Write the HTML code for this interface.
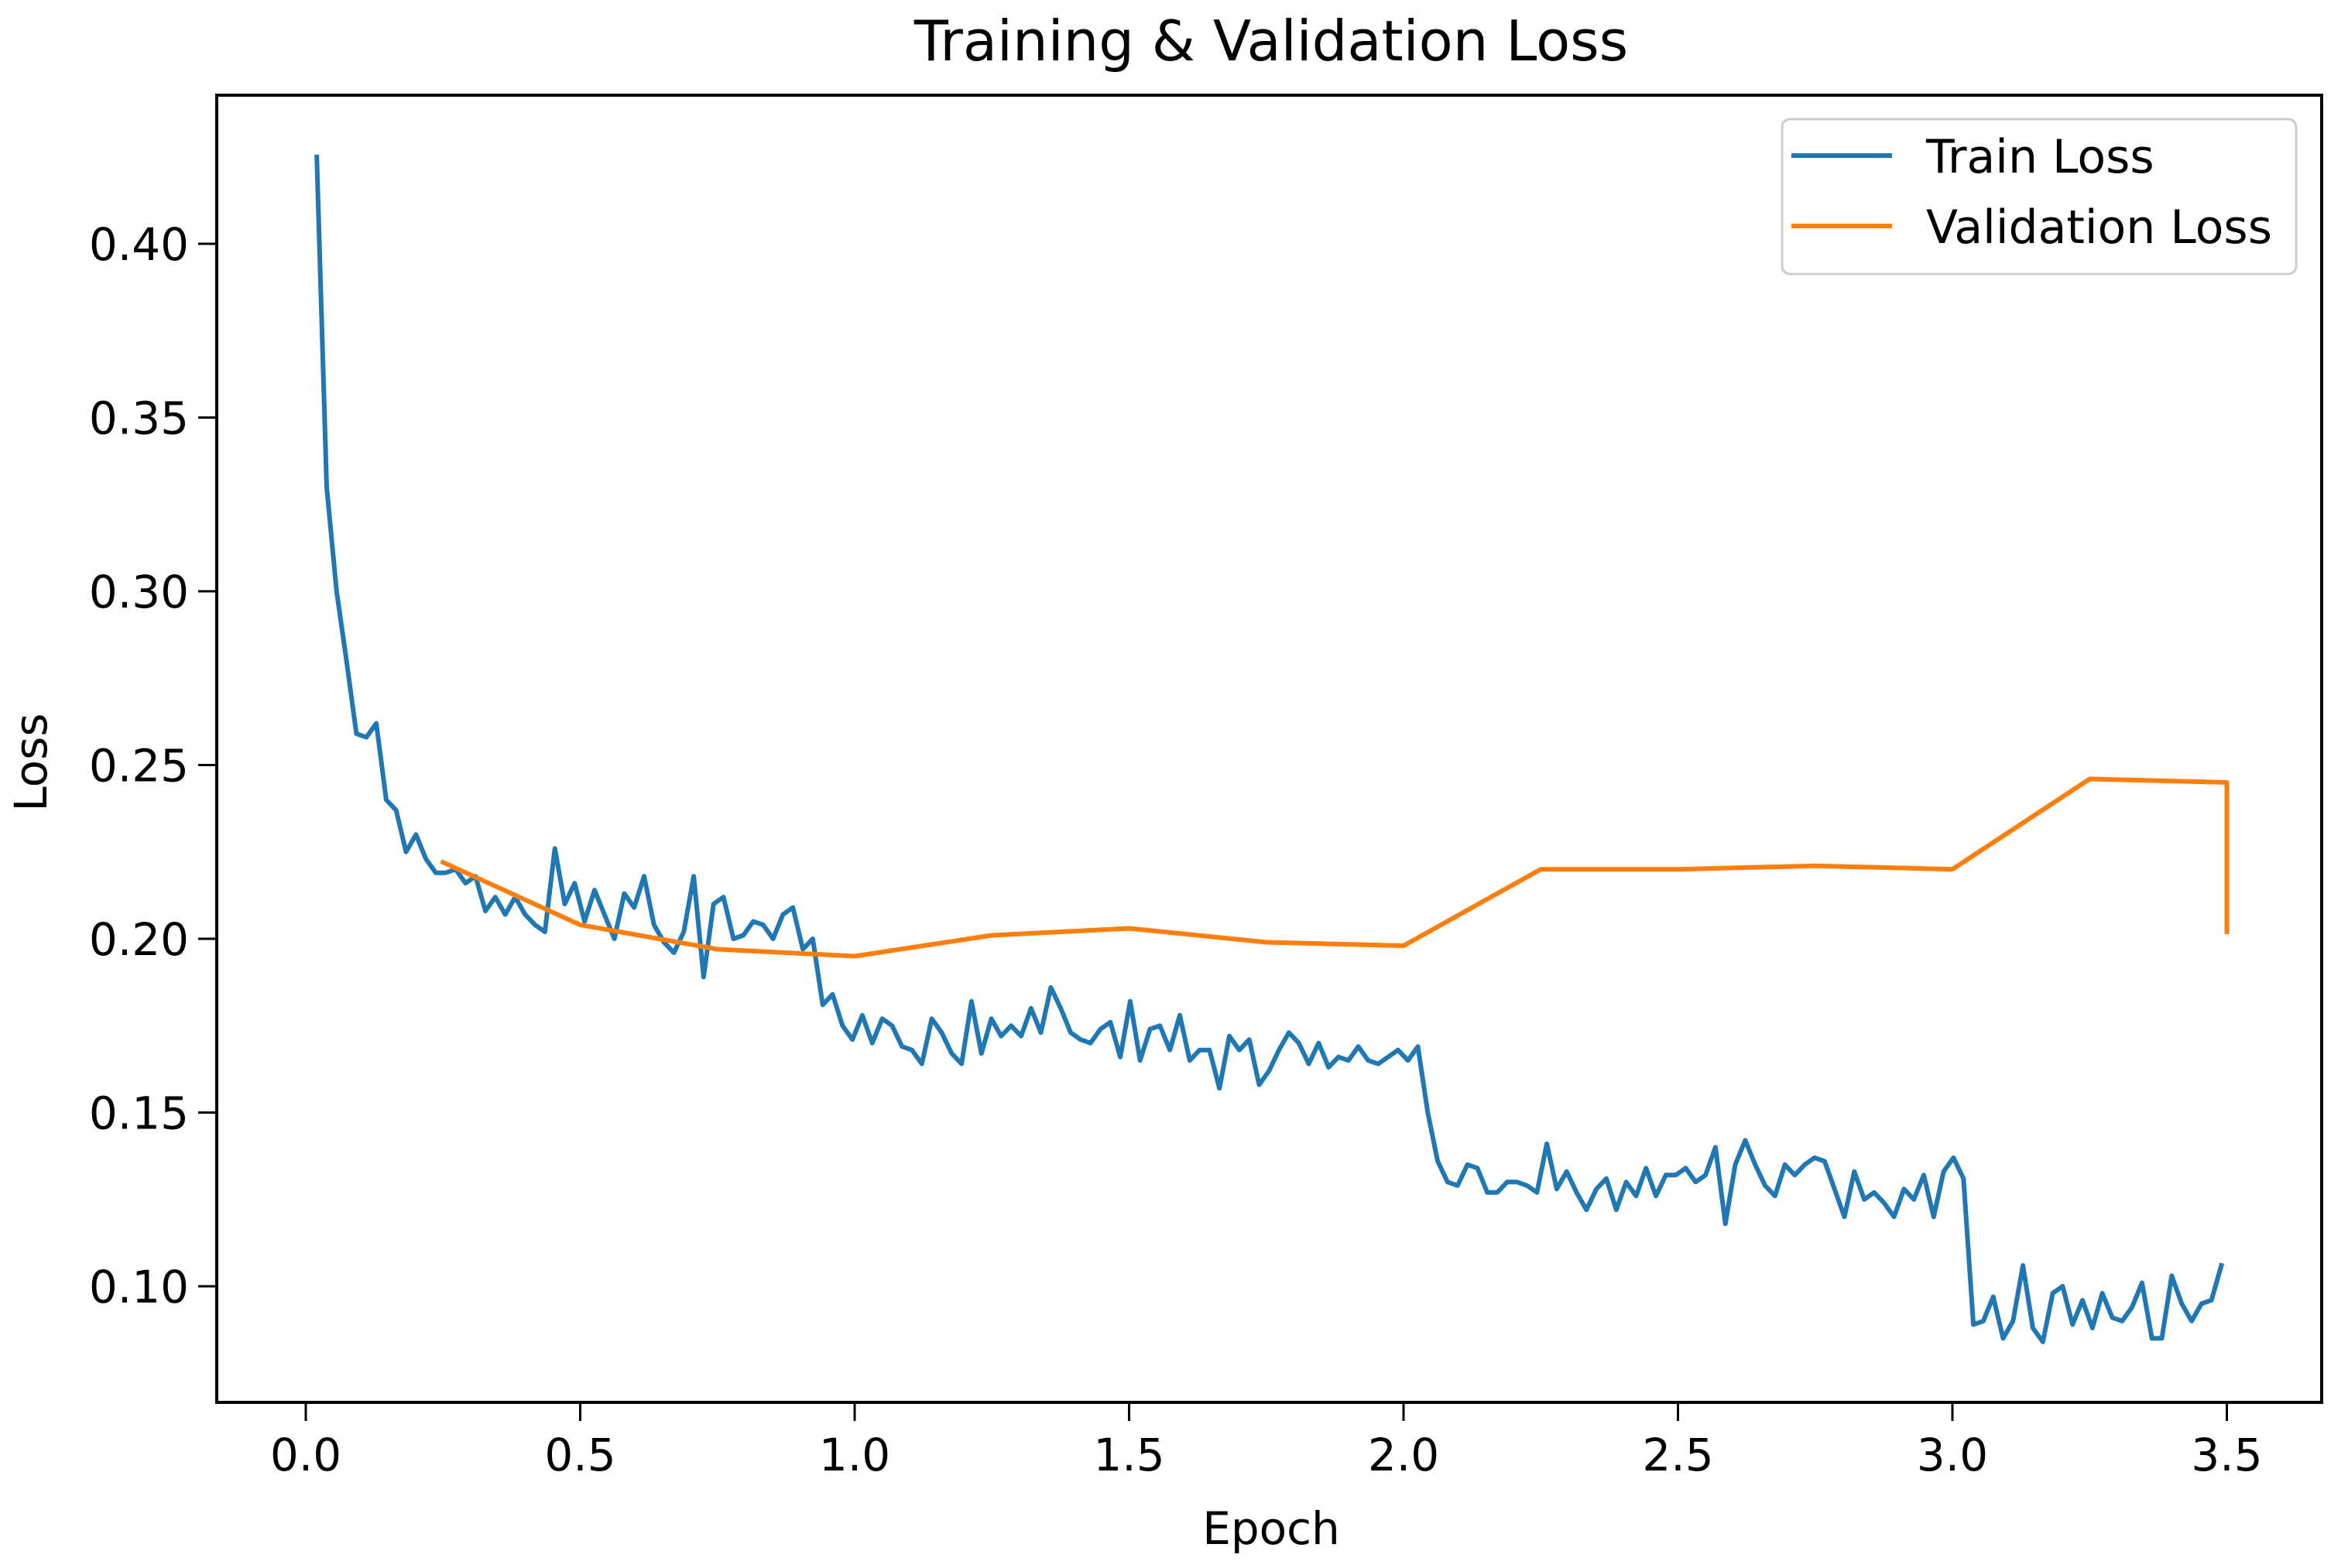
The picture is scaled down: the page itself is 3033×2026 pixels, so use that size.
<!DOCTYPE html>
<html><head><meta charset="utf-8"><style>
html,body{margin:0;padding:0;background:#fff;}
svg{display:block;font-family:"DejaVu Sans","Liberation Sans",sans-serif;}
</style></head><body>
<svg id="chart" width="3033" height="2026" viewBox="0 0 3033 2026" xmlns="http://www.w3.org/2000/svg">
<rect x="0" y="0" width="3033" height="2026" fill="#fff"/>
<text x="1642" y="78" font-size="72" text-anchor="middle" fill="#000">Training &amp; Validation Loss</text>
<text x="0" y="0" font-size="58" text-anchor="middle" fill="#000" transform="translate(60,985) rotate(-90)">Loss</text>
<text x="1642" y="1995" font-size="58" text-anchor="middle" fill="#000">Epoch</text>
<g id="plot"></g>
<g id="axes"></g>
<g id="legend">
<rect x="2302" y="154" width="664" height="200" rx="10" fill="#fff" fill-opacity="0.8" stroke="#ccc" stroke-width="3"/>
<line x1="2314" y1="201" x2="2444" y2="201" stroke="#1f77b4" stroke-width="6"/>
<text x="2488" y="223" font-size="60" fill="#000">Train Loss</text>
<line x1="2314" y1="292" x2="2444" y2="292" stroke="#ff7f0e" stroke-width="6"/>
<text x="2488" y="314" font-size="60" fill="#000">Validation Loss</text>
</g>
</svg>
<script>
const trainLoss = [0.425,0.33,0.30,0.28,0.259,0.258,0.262,0.24,0.237,0.225,0.23,0.223,0.219,0.219,0.22,0.216,0.218,0.208,0.212,0.207,0.212,0.207,0.204,0.202,0.226,0.21,0.216,0.205,0.214,0.207,0.20,0.213,0.209,0.218,0.204,0.199,0.196,0.202,0.218,0.189,0.21,0.212,0.20,0.201,0.205,0.204,0.20,0.207,0.209,0.197,0.20,
0.181,0.184,0.175,0.171,0.178,0.17,0.177,0.175,0.169,0.168,0.164,0.177,0.173,0.167,0.164,0.182,0.167,0.177,0.172,0.175,0.172,0.18,0.173,0.186,0.18,0.173,0.171,0.17,0.174,0.176,0.166,0.182,0.165,0.174,0.175,0.168,0.178,0.165,0.168,0.168,0.157,0.172,0.168,0.171,0.158,0.162,0.168,0.173,0.170,0.164,0.17,0.163,0.166,0.165,0.169,0.165,0.164,0.166,0.168,0.165,0.169,
0.150,0.136,0.13,0.129,0.135,0.134,0.127,0.127,0.13,0.13,0.129,0.127,0.141,0.128,0.133,0.127,0.122,0.128,0.131,0.122,0.13,0.126,0.134,0.126,0.132,0.132,0.134,0.13,0.132,0.14,0.118,0.135,0.142,0.135,0.129,0.126,0.135,0.132,0.135,0.137,0.136,0.128,0.12,0.133,0.125,0.127,0.124,0.12,0.128,0.125,0.132,0.12,0.133,0.137,0.131,
0.089,0.09,0.097,0.085,0.09,0.106,0.088,0.084,0.098,0.1,0.089,0.096,0.088,0.098,0.091,0.09,0.094,0.101,0.085,0.085,0.103,0.095,0.09,0.095,0.096,0.106];
const trainStart = 0.02;
const trainEnd = 3.49;
const valEpochs = [0.25,0.5,0.75,1.0,1.25,1.5,1.75,2.0,2.25,2.5,2.75,3.0,3.25,3.5,3.5];
const valLoss = [0.222,0.204,0.197,0.195,0.201,0.203,0.199,0.198,0.220,0.220,0.221,0.220,0.246,0.245,0.202];
const xTicks = [0.0,0.5,1.0,1.5,2.0,2.5,3.0,3.5];
const xTickLabels = ["0.0","0.5","1.0","1.5","2.0","2.5","3.0","3.5"];
const yTicks = [0.10,0.15,0.20,0.25,0.30,0.35,0.40];
const yTickLabels = ["0.10","0.15","0.20","0.25","0.30","0.35","0.40"];

const L=280,R=2999,T=123,B=1812;
const X0=395, XU=709;
const Y10=1662, YU=224.5*20;
function sx(v){return X0+(v)*XU;}
function sy(v){return Y10-(v-0.10)*YU;}
const NS="http://www.w3.org/2000/svg";
const plot=document.getElementById('plot');
const axes=document.getElementById('axes');
function mk(tag,attrs,parent){const e=document.createElementNS(NS,tag);for(const k in attrs)e.setAttribute(k,attrs[k]);parent.appendChild(e);return e;}

const n=trainLoss.length;
let d="";
trainLoss.forEach((v,i)=>{const x=trainStart+i*(trainEnd-trainStart)/(n-1);d+=(i?"L":"M")+sx(x).toFixed(1)+","+sy(v).toFixed(1);});
const tl=mk('path',{d:d,fill:'none',stroke:'#1f77b4','stroke-width':6,'stroke-linejoin':'round','stroke-linecap':'square'},plot);


let d2="";
valLoss.forEach((v,i)=>{d2+=(i?"L":"M")+sx(valEpochs[i]).toFixed(1)+","+sy(v).toFixed(1);});
const vl=mk('path',{d:d2,fill:'none',stroke:'#ff7f0e','stroke-width':6,'stroke-linejoin':'round','stroke-linecap':'square'},plot);



const fr=mk('rect',{x:L,y:T,width:R-L,height:B-T,fill:'none',stroke:'#000','stroke-width':4},axes);


xTicks.forEach((v,i)=>{
  const t=mk('line',{x1:sx(v),y1:B,x2:sx(v),y2:B+24,stroke:'#000','stroke-width':3},axes);
  
  
  const tx=mk('text',{x:sx(v),y:B+88,'font-size':58,'text-anchor':'middle',fill:'#000'},axes);
  tx.textContent=xTickLabels[i];
  
  
});
yTicks.forEach((v,i)=>{
  const t=mk('line',{x1:L-24,y1:sy(v),x2:L,y2:sy(v),stroke:'#000','stroke-width':3},axes);
  
  
  const tx=mk('text',{x:L-36,y:sy(v)+21,'font-size':58,'text-anchor':'end',fill:'#000'},axes);
  tx.textContent=yTickLabels[i];
  
  
});
</script>
</body></html>
